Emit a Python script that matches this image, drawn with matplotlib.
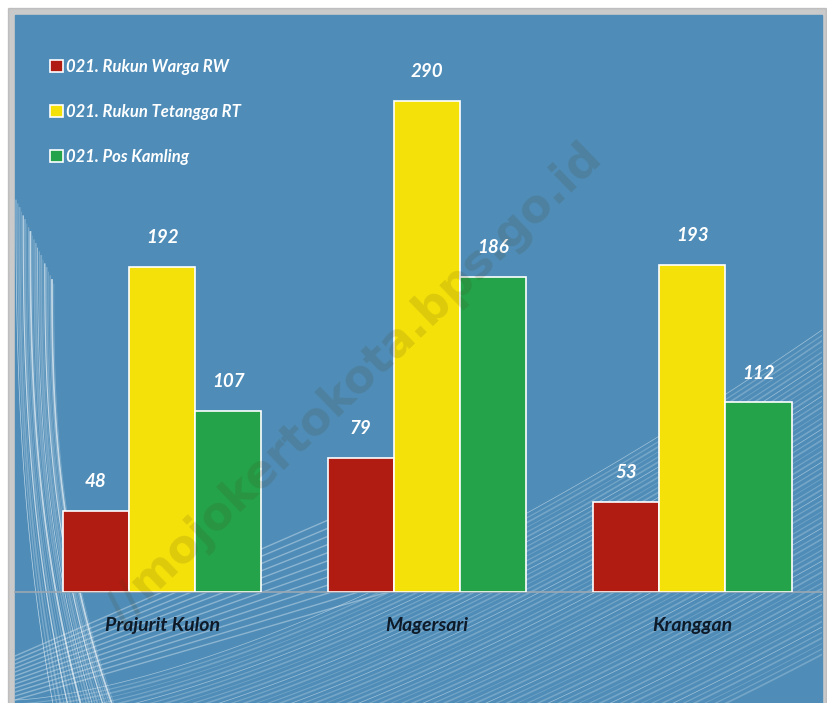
import numpy as np
import matplotlib.pyplot as plt
from matplotlib.patches import Rectangle

desa = ['Prajurit Kulon', 'Magersari', 'Kranggan']
seri = ['021. Rukun Warga RW', '021. Rukun Tetangga RT', '021. Pos Kamling']
rw = [48, 79, 53]
rt = [192, 290, 193]
pos = [107, 186, 112]
warna = ['#b01c12', '#f5e10a', '#24a34a']

W, H = 827, 703
fig = plt.figure(figsize=(W / 100, H / 100), dpi=100)
fig.patch.set_facecolor('white')

# panel biru dengan bayangan
bg = fig.add_axes([0, 0, 1, 1])
bg.set_xlim(0, W)
bg.set_ylim(H, 0)
bg.axis('off')
bg.add_patch(Rectangle((8, 8), 818, 700, color='#a0a0a0', alpha=0.55, zorder=0))
bg.add_patch(Rectangle((15, 15), 807, 700, color='#4f8db8', zorder=1))
clip = Rectangle((15, 15), 807, 700, transform=bg.transData)

def garis(xs, ys, lw, a):
    ln, = bg.plot(xs, ys, color='white', lw=lw, alpha=a, zorder=2)
    ln.set_clip_path(clip)

# garis-garis hiasan latar (kiri, hampir tegak)
t = np.linspace(0, 1, 80)
for k in range(22):
    x0 = 16 + k * 1.8
    garis(x0 + (40 + k * 3) * t ** 2.5, 200 + k * 4 + 520 * t,
          0.5 + (k % 3) * 0.4, 0.25 + 0.4 * (k % 4 == 0))
# garis miring di bagian bawah
for k in range(60):
    y0 = 700 + k * 4
    xs = 15 + 807 * t
    garis(xs, y0 - (370 - k * 1.5) * t ** 1.5,
          0.5 + (k % 3) * 0.35, 0.22 + 0.25 * (k % 6 == 0))
# pita terang kiri bawah
for k in range(12):
    xs = 15 + 380 * t
    garis(xs, 700 - k * 4 - (110 + k * 5) * t, 1.0, 0.35)

# grafik batang
ax = fig.add_axes([15 / W, (H - 592) / H, 807 / W, 577 / H])
ax.patch.set_alpha(0)
x = np.arange(len(desa))
lebar = 0.25
geser = [-lebar, 0, lebar]
fnt = dict(family='Lato', style='italic', weight='bold')
for data, c, dx, nama in zip([rw, rt, pos], warna, geser, seri):
    ax.bar(x + dx, data, lebar, color=c, edgecolor='white', linewidth=1.2,
           label=nama, zorder=3)
    for xi, v in zip(x + dx, data):
        ax.annotate(str(v), (xi, v), xytext=(0, 15), textcoords='offset points',
                    ha='center', va='bottom', color='white', fontsize=13.5, **fnt)

ax.set_xlim(-0.555, 2.49)
ax.set_ylim(0, 340.8)
ax.set_yticks([])
ax.set_xticks(x)
ax.set_xticklabels(desa, color='#0e1a28', fontsize=14, **fnt)
ax.tick_params(axis='x', length=0, pad=18)
for s in ['top', 'right', 'left']:
    ax.spines[s].set_visible(False)
ax.spines['bottom'].set_color('#9aa8b4')
ax.spines['bottom'].set_linewidth(1.2)

leg = ax.legend(loc='upper left', bbox_to_anchor=(0.025, 0.95), frameon=False,
                handlelength=0.75, handleheight=0.75, handletextpad=0.2,
                labelspacing=1.75, prop=dict(family='Lato', style='italic',
                                             weight='bold', size=12))
for tx in leg.get_texts():
    tx.set_color('white')

# watermark
wm = fig.text(355 / W, 1 - 385 / H, '//mojokertokota.bps.go.id', rotation=44,
              ha='center', va='center', fontsize=33, color='#4a3a10', alpha=0.14,
              family='DejaVu Sans', weight='bold', zorder=10)

fig.savefig('out.png', dpi=100, facecolor=fig.get_facecolor())
